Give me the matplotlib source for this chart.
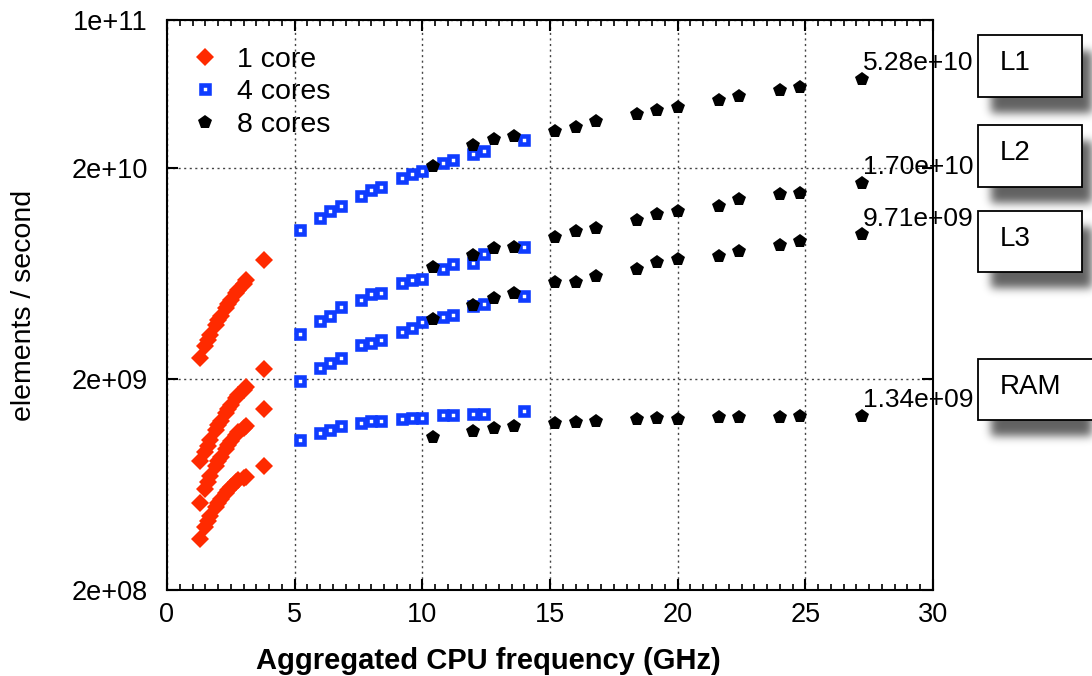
import numpy as np
import matplotlib.pyplot as plt
from matplotlib.patches import Rectangle
from matplotlib.ticker import FixedLocator, MultipleLocator, NullLocator

plt.rcParams['font.family'] = ['Liberation Sans', 'DejaVu Sans']

# aggregated CPU frequency (GHz)
x_1core = [1.3, 1.5, 1.6, 1.7, 1.9, 2.0, 2.1, 2.3, 2.4, 2.5, 2.7, 2.8, 3.0, 3.1, 3.8]
x_4cores = [5.2, 6.0, 6.4, 6.8, 7.6, 8.0, 8.4, 9.2, 9.6, 10.0, 10.8, 11.2, 12.0, 12.4, 14.0]
x_8cores = [10.4, 12.0, 12.8, 13.6, 15.2, 16.0, 16.8, 18.4, 19.2, 20.0, 21.6, 22.4, 24.0, 24.8, 27.2]

# elements / second
l1_1core = [2.51e9, 2.86e9, 3.05e9, 3.23e9, 3.60e9, 3.80e9, 3.97e9, 4.33e9, 4.52e9, 4.72e9, 5.10e9, 5.27e9, 5.62e9, 5.87e9, 7.30e9]
l2_1core = [8.17e8, 9.01e8, 9.62e8, 1.03e9, 1.15e9, 1.21e9, 1.26e9, 1.38e9, 1.44e9, 1.50e9, 1.62e9, 1.68e9, 1.77e9, 1.83e9, 2.23e9]
l3_1core = [5.17e8, 6.02e8, 6.49e8, 6.93e8, 7.73e8, 8.17e8, 8.53e8, 9.31e8, 9.72e8, 1.02e9, 1.08e9, 1.12e9, 1.17e9, 1.20e9, 1.44e9]
ram_1core = [3.49e8, 3.98e8, 4.24e8, 4.48e8, 4.94e8, 5.17e8, 5.40e8, 5.76e8, 5.95e8, 6.15e8, 6.49e8, 6.64e8, 6.78e8, 6.86e8, 7.73e8]

l1_4cores = [1.01e10, 1.16e10, 1.25e10, 1.32e10, 1.47e10, 1.56e10, 1.62e10, 1.79e10, 1.86e10, 1.93e10, 2.10e10, 2.17e10, 2.32e10, 2.40e10, 2.70e10]
l2_4cores = [3.25e9, 3.76e9, 3.97e9, 4.36e9, 4.72e9, 5.04e9, 5.12e9, 5.67e9, 5.87e9, 5.91e9, 6.62e9, 6.97e9, 7.05e9, 7.77e9, 8.45e9]
l3_4cores = [1.95e9, 2.24e9, 2.37e9, 2.50e9, 2.89e9, 2.95e9, 3.05e9, 3.34e9, 3.47e9, 3.70e9, 3.94e9, 4.01e9, 4.42e9, 4.50e9, 4.95e9]
ram_4cores = [1.03e9, 1.11e9, 1.15e9, 1.19e9, 1.23e9, 1.26e9, 1.26e9, 1.29e9, 1.31e9, 1.31e9, 1.35e9, 1.35e9, 1.37e9, 1.37e9, 1.41e9]

l1_8cores = [2.04e10, 2.56e10, 2.73e10, 2.82e10, 2.97e10, 3.10e10, 3.32e10, 3.59e10, 3.75e10, 3.89e10, 4.19e10, 4.37e10, 4.66e10, 4.80e10, 5.28e10]
l2_8cores = [6.79e9, 7.72e9, 8.36e9, 8.40e9, 9.36e9, 1.006e10, 1.035e10, 1.13e10, 1.21e10, 1.24e10, 1.31e10, 1.42e10, 1.50e10, 1.52e10, 1.70e10]
l3_8cores = [3.83e9, 4.45e9, 4.81e9, 5.08e9, 5.77e9, 5.77e9, 6.14e9, 6.62e9, 7.12e9, 7.39e9, 7.63e9, 8.08e9, 8.60e9, 8.99e9, 9.71e9]
ram_8cores = [1.064e9, 1.138e9, 1.176e9, 1.196e9, 1.24e9, 1.254e9, 1.263e9, 1.286e9, 1.30e9, 1.29e9, 1.315e9, 1.32e9, 1.32e9, 1.33e9, 1.34e9]

levels = ['L1', 'L2', 'L3', 'RAM']
series_1core = [l1_1core, l2_1core, l3_1core, ram_1core]
series_4cores = [l1_4cores, l2_4cores, l3_4cores, ram_4cores]
series_8cores = [l1_8cores, l2_8cores, l3_8cores, ram_8cores]

y_ticks = [2e8, 2e9, 2e10, 1e11]
y_tick_labels = ['2e+08', '2e+09', '2e+10', '1e+11']
x_ticks = [0, 5, 10, 15, 20, 25, 30]

red = '#ff2a00'
blue = '#0f3cff'

fig = plt.figure(figsize=(10.92, 6.76), dpi=100)
ax = fig.add_axes([167 / 1092, 86 / 676, 766 / 1092, 570 / 676])
ax.set_yscale('log')
ax.set_xlim(0, 30)
ax.set_ylim(2e8, 1e11)

for i, level in enumerate(levels):
    ax.plot(x_1core, series_1core[i], 'D', ms=9.5, color=red, mec=red, mew=0,
            label='1 core' if i == 0 else None, zorder=3)
    ax.plot(x_4cores, series_4cores[i], 's', ms=5.8, mfc='white', mec=blue, mew=3.3,
            label='4 cores' if i == 0 else None, zorder=3)
    ax.plot(x_8cores, series_8cores[i], 'p', ms=10.5, color='black', mew=0,
            label='8 cores' if i == 0 else None, zorder=4)
    last = series_8cores[i][-1]
    ax.annotate(f'{last:.2e}', (x_8cores[-1], last), xytext=(1, 11),
                textcoords='offset points', ha='left', va='center',
                fontsize=19, annotation_clip=False, zorder=5)

ax.yaxis.set_major_locator(FixedLocator(y_ticks))
ax.yaxis.set_minor_locator(NullLocator())
ax.set_yticklabels(y_tick_labels)
ax.xaxis.set_major_locator(FixedLocator(x_ticks))
ax.xaxis.set_minor_locator(MultipleLocator(0.5))
ax.tick_params(which='both', direction='in', top=True, right=True, labelsize=19.5, color='black')
ax.tick_params(axis='y', which='major', length=8, width=1.5, pad=14)
ax.tick_params(axis='x', which='major', length=8, width=1.5, pad=9)
ax.tick_params(axis='x', which='minor', length=4, width=1.2)
for s in ax.spines.values():
    s.set_linewidth(1.5)

ax.grid(True, which='major', axis='both', linestyle=(0, (1.5, 2.5)), color='#444444', linewidth=1.0)

ax.set_xlabel('Aggregated CPU frequency (GHz)', fontsize=21, fontweight='bold')
ax.xaxis.set_label_coords(0.42, -0.1)
ax.set_ylabel('elements / second', fontsize=20.5)
ax.yaxis.set_label_coords(-0.17, 0.5)

leg = ax.legend(loc='upper left', bbox_to_anchor=(-0.012, 1.0), fontsize=20.5, frameon=False,
                handletextpad=0.42, borderaxespad=0.55, labelspacing=0.22, handlelength=1.4)

# labelled boxes with drop shadows on the right
ov = fig.add_axes([0, 0, 1, 1], zorder=5)
ov.set_xlim(0, 1092)
ov.set_ylim(676, 0)
ov.axis('off')
ov.patch.set_alpha(0)

boxes = [(978, 35, 104, 62), (978, 125, 104, 62), (978, 211, 104, 61), (978, 359, 130, 61)]
H, W = 676, 1092
mask = np.zeros((H, W))
for bx, by, bw, bh in boxes:
    mask[by + 16:by + bh + 16, bx + 13:min(bx + bw + 13, W)] = 1.0
k = np.exp(-0.5 * (np.arange(-12, 13) / 4.5) ** 2)
k /= k.sum()
mask = np.apply_along_axis(lambda r: np.convolve(r, k, mode='same'), 1, mask)
mask = np.apply_along_axis(lambda c: np.convolve(c, k, mode='same'), 0, mask)
shadow = np.zeros((H, W, 4))
shadow[..., 3] = mask * 0.62
ov.imshow(shadow, extent=(0, W, H, 0), interpolation='bilinear', zorder=1)
ov.set_xlim(0, 1092)
ov.set_ylim(676, 0)

for (bx, by, bw, bh), level in zip(boxes, levels):
    ov.add_patch(Rectangle((bx, by), bw, bh, facecolor='white', edgecolor='black', lw=1.3, zorder=2))
    ov.text(bx + 22, by + bh / 2 - 3, level, fontsize=20, ha='left', va='center', zorder=3)

fig.savefig('out.png', dpi=100)
